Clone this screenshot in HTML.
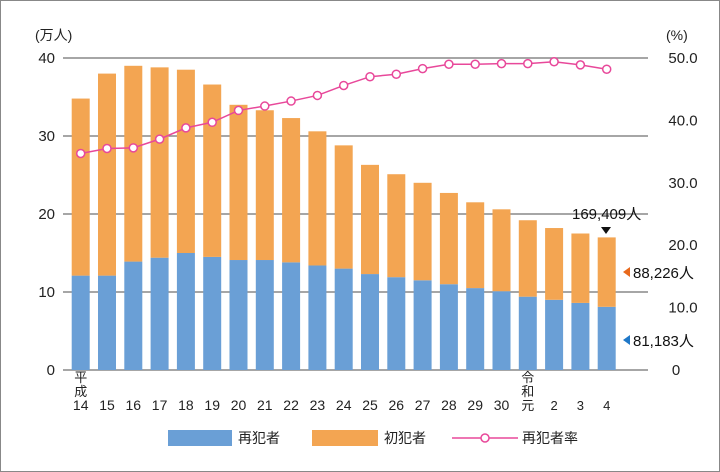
<!DOCTYPE html>
<html><head><meta charset="utf-8"><style>
body{margin:0;background:#fff;}
svg{display:block;font-family:"Liberation Sans","Noto Sans CJK JP",sans-serif;}
</style></head><body>
<svg id="chart" width="720" height="472" viewBox="0 0 720 472" xmlns="http://www.w3.org/2000/svg">
<rect x="0.5" y="0.5" width="719" height="471" fill="#fff" stroke="#888"/>
<g id="grid"></g><g id="bars"></g><g id="line"></g><g id="axes"></g>
<text x="35" y="40" font-size="14" fill="#222">(万人)</text>
<text x="666" y="40" font-size="14" fill="#222">(%)</text>
<text x="572" y="219" font-size="15" fill="#111">169,409人</text>
<path d="M601,227 L611,227 L606,234 Z" fill="#111"/>
<path d="M623,272 L630,267 L630,277 Z" fill="#e8691c"/>
<text x="633" y="278" font-size="15" fill="#111">88,226人</text>
<path d="M623,340 L630,335 L630,345 Z" fill="#1f78c8"/>
<text x="633" y="346" font-size="15" fill="#111">81,183人</text>
<g>
<rect x="168" y="430" width="64" height="16" fill="#6a9fd6"/>
<text x="238" y="443" font-size="14" fill="#222">再犯者</text>
<rect x="312" y="430" width="66" height="16" fill="#f3a552"/>
<text x="384" y="443" font-size="14" fill="#222">初犯者</text>
<line x1="452" y1="438" x2="518" y2="438" stroke="#e8489a" stroke-width="1.5"/>
<circle cx="485" cy="438" r="4" fill="#fff" stroke="#e8489a" stroke-width="1.5"/>
<text x="522" y="443" font-size="14" fill="#222">再犯者率</text>
</g>
</svg>
<script>
const categories=[["平","成","14"],["15"],["16"],["17"],["18"],["19"],["20"],["21"],["22"],["23"],["24"],["25"],["26"],["27"],["28"],["29"],["30"],["令","和","元"],["2"],["3"],["4"]];
const repeatOffenders=[12.1,12.1,13.9,14.4,15.0,14.5,14.1,14.1,13.8,13.4,13.0,12.3,11.9,11.5,11.0,10.5,10.1,9.4,9.0,8.6,8.1];
const totalOffenders=[34.8,38.0,39.0,38.8,38.5,36.6,34.0,33.3,32.3,30.6,28.8,26.3,25.1,24.0,22.7,21.5,20.6,19.2,18.2,17.5,17.0];
const recidivismRate=[34.7,35.5,35.6,37.0,38.8,39.7,41.6,42.3,43.1,44.0,45.6,47.0,47.4,48.3,49.0,49.0,49.1,49.1,49.4,48.9,48.2];
const leftTicks=[0,10,20,30,40];
const rightTicks=["0","10.0","20.0","30.0","40.0","50.0"];
const NS="http://www.w3.org/2000/svg";
const y0=370,yTop=58,leftMax=40,rightMax=50;
const yL=v=>y0-(v/leftMax)*(y0-yTop);
const yR=v=>y0-(v/rightMax)*(y0-yTop);
const xC=i=>80.7+i*26.3;
const bw=18;
function mk(tag,attrs,parent){const e=document.createElementNS(NS,tag);for(const k in attrs)e.setAttribute(k,attrs[k]);parent.appendChild(e);return e;}
const grid=document.getElementById('grid'),bars=document.getElementById('bars'),line=document.getElementById('line'),axes=document.getElementById('axes');
leftTicks.forEach(t=>{
 const l=mk('line',{x1:63,x2:648,y1:yL(t),y2:yL(t),stroke:'#888','stroke-width':1.5},grid);
 
 
 const tx=mk('text',{x:55,y:yL(t)+5,'font-size':15,'text-anchor':'end',fill:'#222'},axes);
 tx.textContent=t;
 
 
});
rightTicks.forEach((t,i)=>{
 const tx=mk('text',{x:t==="0"?676:683,y:yR(i*10)+5,'font-size':15,'text-anchor':'middle',fill:'#222'},axes);
 tx.textContent=t;
 
 
});
categories.forEach((c,i)=>{
 const x=xC(i);
 const r=mk('rect',{x:x-bw/2,y:yL(repeatOffenders[i]),width:bw,height:y0-yL(repeatOffenders[i]),fill:'#6a9fd6'},bars);
 
 
 const f=mk('rect',{x:x-bw/2,y:yL(totalOffenders[i]),width:bw,height:yL(repeatOffenders[i])-yL(totalOffenders[i]),fill:'#f3a552'},bars);
 
 
 c.forEach((s,j)=>{
  const tx=mk('text',{x:x,y:410-(c.length-1-j)*14,'font-size':s.length>1?14:13,'text-anchor':'middle',fill:'#222'},axes);
  tx.textContent=s;
  
  
 });
});
const pl=mk('polyline',{points:recidivismRate.map((v,i)=>xC(i)+','+yR(v)).join(' '),fill:'none',stroke:'#e8489a','stroke-width':1.5},line);


recidivismRate.forEach((v,i)=>{
 const c=mk('circle',{cx:xC(i),cy:yR(v),r:4,fill:'#fff',stroke:'#e8489a','stroke-width':1.5},line);
 
 
});
</script>
</body></html>
